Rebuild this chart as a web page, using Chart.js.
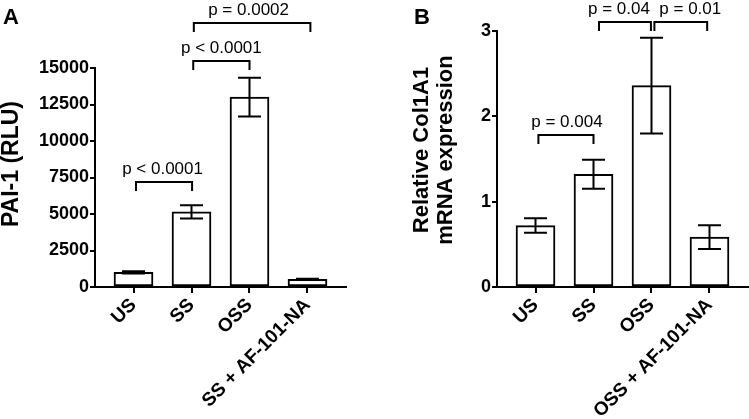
<!DOCTYPE html>
<html>
<head>
<meta charset="utf-8">
<script src="https://cdn.jsdelivr.net/npm/chart.js"></script>
<style>
  html, body { margin: 0; padding: 0; background: #fff; }
  #wrap { position: relative; width: 749px; height: 419px; }
  .panel { position: absolute; top: 0; height: 419px; }
</style>
</head>
<body>
<div id="wrap">
  <div class="panel" style="left:0;width:375px"><canvas id="chartA"></canvas></div>
  <div class="panel" style="left:375px;width:374px"><canvas id="chartB"></canvas></div>
</div>
<script>
// panel A: PAI-1
var labelsA = ["US", "SS", "OSS", "SS + AF-101-NA"];
var meansA = [1000, 5150, 13000, 520];
var errorsA = [80, 450, 1330, 40];
var bracketFromA = [0, 1, 1];
var bracketToA = [1, 2, 3];
var pTextA = ["p < 0.0001", "p < 0.0001", "p = 0.0002"];

// panel B: Col1A1
var labelsB = ["US", "SS", "OSS", "OSS + AF-101-NA"];
var meansB = [0.72, 1.32, 2.36, 0.585];
var errorsB = [0.085, 0.17, 0.56, 0.14];
var bracketFromB = [0, 1, 2];
var bracketToB = [1, 2, 3];
var pTextB = ["p = 0.004", "p = 0.04", "p = 0.01"];

var FONT = "'Liberation Sans', Arial, sans-serif";
Chart.defaults.font.family = FONT;
Chart.defaults.color = "#000";

var errorBars = {
    id: "errorBars",
    afterDatasetsDraw: function (chart, args, opts) {
        var ctx = chart.ctx;
        var meta = chart.getDatasetMeta(0);
        var ys = chart.scales.y;
        ctx.save();
        ctx.strokeStyle = "#000";
        ctx.lineWidth = 2;
        opts.means.forEach(function (m, i) {
            var x = meta.data[i].x;
            var top = ys.getPixelForValue(m + opts.errors[i]);
            var bot = ys.getPixelForValue(m - opts.errors[i]);
            ctx.beginPath();
            ctx.moveTo(x, top); ctx.lineTo(x, bot);
            ctx.moveTo(x - 11.5, top); ctx.lineTo(x + 11.5, top);
            ctx.moveTo(x - 11.5, bot); ctx.lineTo(x + 11.5, bot);
            ctx.stroke();
        });
        ctx.restore();
    }
};

var extras = {
    id: "extras",
    afterDraw: function (chart, args, opts) {
        var ctx = chart.ctx;
        var xs = chart.scales.x, ys = chart.scales.y;
        ctx.save();
        ctx.strokeStyle = "#000";
        ctx.fillStyle = "#000";
        ctx.lineWidth = 2;
        // significance brackets
        opts.brackets.forEach(function (b) {
            var x1 = xs.getPixelForValue(b.from), x2 = xs.getPixelForValue(b.to);
            var y = Math.round(ys.getPixelForValue(b.level));
            ctx.beginPath();
            ctx.moveTo(x1, y + 9); ctx.lineTo(x1, y); ctx.lineTo(x2, y); ctx.lineTo(x2, y + 9);
            ctx.stroke();
            ctx.font = "17px " + FONT;
            ctx.textAlign = "center";
            ctx.textBaseline = "alphabetic";
            ctx.fillText(b.text, (x1 + x2) / 2 + b.dx, y - 8);
        });
        // panel letter
        ctx.font = "bold 22px " + FONT;
        ctx.textAlign = "left";
        ctx.textBaseline = "top";
        ctx.fillText(opts.letter, opts.letterX, 7);
        // y axis title
        ctx.font = "bold " + opts.titleSize + "px " + FONT;
        ctx.textAlign = "center";
        ctx.textBaseline = "middle";
        opts.title.forEach(function (line, k) {
            ctx.save();
            ctx.translate(opts.titleX[k], opts.titleY);
            ctx.rotate(-Math.PI / 2);
            ctx.fillText(line, 0, 0);
            ctx.restore();
        });
        ctx.restore();
    }
};

function makeChart(id, labels, means, errors, yMax, yStep, axisWidth, padTop, padRight, extraOpts) {
    var points = means.map(function (v, i) { return { x: i, y: v }; });
    return new Chart(id, {
        type: "bar",
        data: {
            datasets: [{
                data: points,
                backgroundColor: "#fff",
                borderColor: "#000",
                borderWidth: 2,
                borderSkipped: false,
                barThickness: 39
            }]
        },
        options: {
            responsive: true,
            maintainAspectRatio: false,
            animation: false,
            layout: { padding: { top: padTop, right: padRight, left: 0, bottom: 0 } },
            plugins: {
                legend: { display: false },
                tooltip: { enabled: false },
                errorBars: { means: means, errors: errors },
                extras: extraOpts
            },
            scales: {
                x: {
                    type: "linear",
                    offset: false,
                    min: -0.664,
                    max: 3.664,
                    afterBuildTicks: function (s) {
                        s.ticks = labels.map(function (l, i) { return { value: i }; });
                    },
                    afterFit: function (s) { s.height = 132; },
                    ticks: {
                        minRotation: 45,
                        maxRotation: 45,
                        autoSkip: false,
                        padding: 1,
                        font: { size: 19, weight: "bold" },
                        callback: function (v) { return labels[v]; }
                    },
                    grid: { offset: false, drawOnChartArea: false, drawTicks: true, tickLength: 6, color: "#000", lineWidth: 2 },
                    border: { display: true, color: "#000", width: 2 }
                },
                y: {
                    min: 0,
                    max: yMax,
                    afterFit: function (s) { s.width = axisWidth; },
                    ticks: {
                        stepSize: yStep,
                        padding: 1,
                        font: { size: 18, weight: "bold" },
                        callback: function (v) { return String(v); }
                    },
                    grid: { drawOnChartArea: false, drawTicks: true, tickLength: 5, color: "#000", lineWidth: 2 },
                    border: { display: true, color: "#000", width: 2 }
                }
            }
        },
        plugins: [errorBars, extras]
    });
}

var levelsA = [7190, 15510, 18100];
var xOffA = [[0.043, 0.01], [0.03, 0], [0.04, 0.05]];
var textShiftA = [-1.5, 0, -3.5];
makeChart("chartA", labelsA, meansA, errorsA, 15000, 2500, 95, 68, 29, {
    letter: "A", letterX: 3,
    title: ["PAI-1 (RLU)"], titleX: [12], titleY: 164, titleSize: 23,
    brackets: pTextA.map(function (t, i) {
        return { from: bracketFromA[i] + xOffA[i][0], to: bracketToA[i] + xOffA[i][1], level: levelsA[i], text: t, dx: textShiftA[i] };
    })
});

var levelsB = [1.78, 3.10, 3.10];
var xOffB = [[0.05, 0], [0.095, -0.01], [0.05, -0.04]];
var textShiftB = [1, -6, 9.5];
makeChart("chartB", labelsB, meansB, errorsB, 3, 1, 122, 31, 1, {
    letter: "B", letterX: 39,
    title: ["Relative Col1A1", "mRNA expression"], titleX: [47, 71], titleY: 150, titleSize: 22,
    brackets: pTextB.map(function (t, i) {
        return { from: bracketFromB[i] + xOffB[i][0], to: bracketToB[i] + xOffB[i][1], level: levelsB[i], text: t, dx: textShiftB[i] };
    })
});
</script>
</body>
</html>
